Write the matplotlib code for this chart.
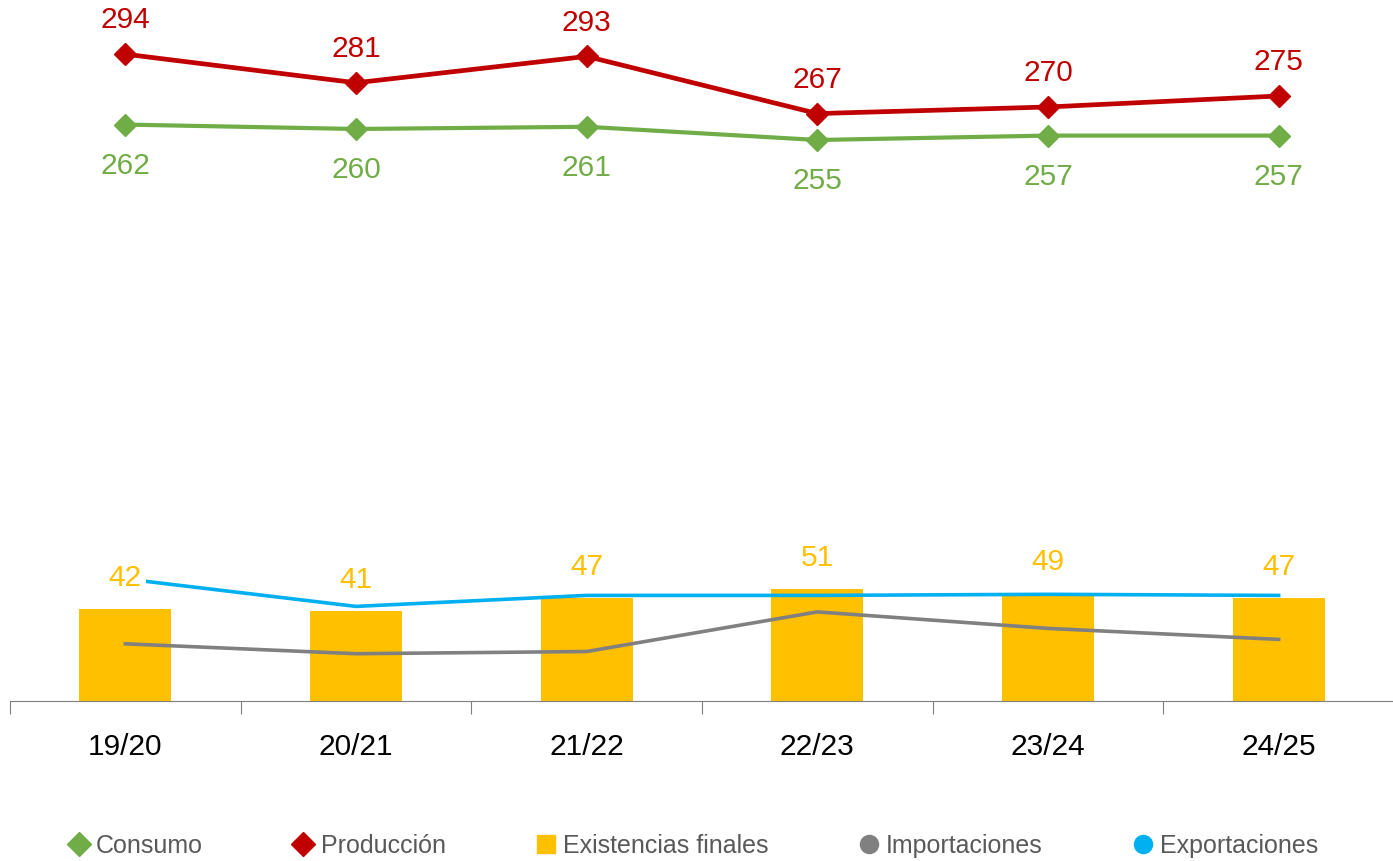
import matplotlib
matplotlib.use("Agg")
import matplotlib.pyplot as plt
from matplotlib.lines import Line2D
import numpy as np

plt.rcParams['font.family'] = ['Liberation Sans', 'DejaVu Sans']

campanas = ["19/20", "20/21", "21/22", "22/23", "23/24", "24/25"]
produccion = [294, 281, 293, 267, 270, 275]
consumo = [262, 260, 261, 255, 257, 257]
existencias = [42, 41, 47, 51, 49, 47]
importaciones = [26, 21.5, 22.5, 40.5, 33, 28]
exportaciones = [55.5, 43, 48, 48, 48.5, 48]

ROJO, VERDE, ORO, GRIS, AZUL = "#C00000", "#70AD47", "#FFC000", "#808080", "#00B0F0"

fig = plt.figure(figsize=(13.93, 8.62), dpi=100)
ax = fig.add_axes([0.0072, 0.1856, 0.9935, 0.7657])
x = np.arange(len(campanas))

ax.bar(x, existencias, width=0.4, color=ORO, zorder=1)
ax.plot(x, importaciones, color=GRIS, lw=2.6, zorder=2)
ax.plot(x, exportaciones, color=AZUL, lw=2.6, zorder=2)
ax.plot(x, consumo, color=VERDE, lw=3.0, marker="D", ms=11, zorder=3)
ax.plot(x, produccion, color=ROJO, lw=3.4, marker="D", ms=11, zorder=3)

fs = 21.5
for xi, v in zip(x, produccion):
    ax.annotate(f"{v}", (xi, v), xytext=(0, 25), textcoords="offset points",
                ha="center", va="center", color=ROJO, fontsize=fs)
for xi, v in zip(x, consumo):
    ax.annotate(f"{v}", (xi, v), xytext=(0, -29), textcoords="offset points",
                ha="center", va="center", color=VERDE, fontsize=fs)
# etiquetas de existencias con fondo blanco (tapan la línea como en Excel)
for xi, v in zip(x, existencias):
    ax.annotate(f"{v}", (xi, v), xytext=(0, 23), textcoords="offset points",
                ha="center", va="center", color=ORO, fontsize=fs, zorder=5,
                bbox=dict(boxstyle="square,pad=0.15", fc="white", ec="none"))

ax.set_xlim(-0.5, len(campanas) - 0.5)
ax.set_ylim(0, 300)
for s in ["top", "right", "left"]:
    ax.spines[s].set_visible(False)
ax.spines["bottom"].set_color("#7f7f7f")
ax.set_yticks([])
ax.set_xticks(np.arange(-0.5, len(campanas)), labels=[""] * (len(campanas) + 1))
ax.tick_params(axis="x", which="major", length=9, color="#7f7f7f")
ax.set_xticks(x, labels=campanas, minor=True)
ax.tick_params(axis="x", which="minor", length=0, pad=22, labelsize=fs, labelcolor="black")

handles = [
    Line2D([], [], ls="none", marker="D", ms=12, color=VERDE),
    Line2D([], [], ls="none", marker="D", ms=12, color=ROJO),
    Line2D([], [], ls="none", marker="s", ms=13, color=ORO),
    Line2D([], [], ls="none", marker="o", ms=13, color=GRIS),
    Line2D([], [], ls="none", marker="o", ms=13, color=AZUL),
]
labels = ["Consumo", "Producción", "Existencias finales", "Importaciones", "Exportaciones"]
leg = fig.legend(handles, labels, loc="center", bbox_to_anchor=(0.498, 0.018), ncol=5,
                 frameon=False, fontsize=18, handlelength=0.8, handletextpad=0.3,
                 columnspacing=3.6)
for t in leg.get_texts():
    t.set_color("#595959")

fig.savefig("out.png", dpi=100)
